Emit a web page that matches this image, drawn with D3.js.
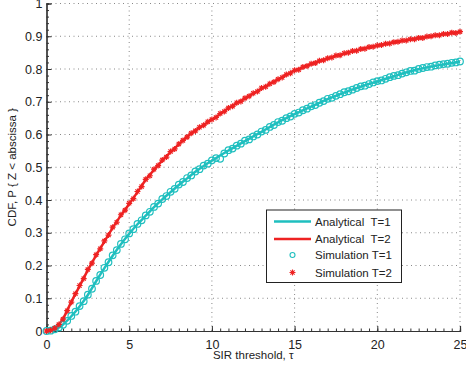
<!DOCTYPE html>
<html>
<head>
<meta charset="utf-8">
<script src="https://cdn.jsdelivr.net/npm/d3@7"></script>
<style>
  body { margin: 0; background: #fff; }
  svg text { font-family: "Liberation Sans", Arial, sans-serif; fill: #222; }
</style>
</head>
<body>
<div id="chart"></div>
<script>
// analytical curves
var anaX = [0, 0.5, 1, 1.5, 2, 2.5, 3, 3.5, 4, 4.5, 5, 5.5, 6, 6.5, 7, 7.5, 8, 8.5, 9, 9.5, 10,
            11, 12, 13, 14, 15, 16, 17, 18, 19, 20, 21, 22, 23, 24, 25];
var anaT1 = [0, 0.004, 0.02, 0.045, 0.075, 0.11, 0.152, 0.192, 0.23, 0.265, 0.297, 0.326, 0.352, 0.378, 0.402, 0.424, 0.446, 0.466, 0.486, 0.504, 0.52,
             0.551, 0.58, 0.608, 0.637, 0.662, 0.685, 0.708, 0.728, 0.746, 0.762, 0.778, 0.793, 0.805, 0.814, 0.822];
var anaT2 = [0, 0.008, 0.038, 0.089, 0.137, 0.186, 0.231, 0.273, 0.315, 0.353, 0.388, 0.424, 0.462, 0.492, 0.52, 0.546, 0.57, 0.593, 0.612, 0.629, 0.645,
             0.68, 0.71, 0.74, 0.768, 0.795, 0.815, 0.832, 0.847, 0.86, 0.871, 0.881, 0.89, 0.898, 0.906, 0.913];

// simulation points, one every 0.25
var simX = d3.range(0, 25.001, 0.25);
var simT1 = [0.000, 0.001, 0.005, 0.011, 0.019, 0.031, 0.046, 0.059, 0.076, 0.091, 0.111, 0.129, 0.153, 0.171, 0.193, 0.210,
             0.231, 0.247, 0.266, 0.280, 0.298, 0.311, 0.327, 0.338, 0.353, 0.364, 0.379, 0.389, 0.403, 0.412, 0.425, 0.434,
             0.447, 0.455, 0.467, 0.475, 0.487, 0.494, 0.505, 0.511, 0.521, 0.528, 0.526, 0.542, 0.552, 0.557, 0.566, 0.572,
             0.581, 0.585, 0.594, 0.600, 0.609, 0.614, 0.623, 0.629, 0.638, 0.642, 0.650, 0.655, 0.663, 0.667, 0.674, 0.679,
             0.686, 0.690, 0.697, 0.702, 0.709, 0.712, 0.718, 0.723, 0.729, 0.732, 0.737, 0.742, 0.747, 0.749, 0.754, 0.759,
             0.763, 0.765, 0.770, 0.775, 0.779, 0.781, 0.786, 0.790, 0.794, 0.795, 0.800, 0.803, 0.806, 0.807, 0.811, 0.813,
             0.815, 0.816, 0.819, 0.820, 0.823];
var simT2 = [0.000, 0.002, 0.009, 0.020, 0.036, 0.062, 0.088, 0.114, 0.139, 0.160, 0.188, 0.207, 0.233, 0.251, 0.275, 0.293,
             0.317, 0.332, 0.355, 0.369, 0.390, 0.404, 0.426, 0.441, 0.463, 0.474, 0.494, 0.505, 0.522, 0.531, 0.548, 0.556,
             0.571, 0.582, 0.592, 0.604, 0.611, 0.622, 0.628, 0.639, 0.646, 0.652, 0.664, 0.670, 0.681, 0.686, 0.697, 0.701,
             0.711, 0.717, 0.726, 0.731, 0.742, 0.746, 0.755, 0.760, 0.769, 0.774, 0.783, 0.787, 0.796, 0.798, 0.806, 0.809,
             0.816, 0.818, 0.825, 0.827, 0.833, 0.835, 0.841, 0.842, 0.848, 0.850, 0.855, 0.856, 0.861, 0.862, 0.867, 0.868,
             0.872, 0.873, 0.877, 0.878, 0.882, 0.883, 0.887, 0.887, 0.891, 0.891, 0.895, 0.895, 0.899, 0.900, 0.903, 0.903,
             0.907, 0.907, 0.911, 0.910, 0.914];

var xTicks = [0, 5, 10, 15, 20, 25];
var yTicks = [0, 0.1, 0.2, 0.3, 0.4, 0.5, 0.6, 0.7, 0.8, 0.9, 1];
var legendLabels = ["Analytical  T=1", "Analytical  T=2", "Simulation T=1", "Simulation T=2"];

var W = 466, H = 373;
var margin = {left: 46.5, right: 6, top: 3.5, bottom: 42};
var cyan = "#1fbfbf", red = "#ee2222";

var svg = d3.select("#chart").append("svg")
    .attr("width", W).attr("height", H);

var x = d3.scaleLinear().domain([0, 25]).range([margin.left, W - margin.right]);
var y = d3.scaleLinear().domain([0, 1]).range([H - margin.bottom, margin.top]);

// dotted grid
svg.append("g").selectAll("line").data(xTicks.slice(1)).enter().append("line")
    .attr("x1", function(d) { return x(d); }).attr("x2", function(d) { return x(d); })
    .attr("y1", y(0)).attr("y2", y(1))
    .attr("stroke", "#888").attr("stroke-dasharray", "1,3.5");
svg.append("g").selectAll("line").data(yTicks.slice(1)).enter().append("line")
    .attr("x1", x(0)).attr("x2", x(25))
    .attr("y1", function(d) { return y(d); }).attr("y2", function(d) { return y(d); })
    .attr("stroke", "#888").attr("stroke-dasharray", "1,3.5");

// axes, ticks pointing inward
var xAxis = d3.axisBottom(x).tickValues(xTicks).tickSize(-5).tickPadding(9).tickFormat(d3.format("d"));
var yAxis = d3.axisLeft(y).tickValues(yTicks).tickSize(-5).tickPadding(4)
    .tickFormat(function(d) { return d === 0 || d === 1 ? d : d3.format(".1f")(d); });

var minorX = d3.axisBottom(x).tickValues(d3.range(0, 25.01, 0.5)).tickSize(-2.5).tickFormat("");
var minorY = d3.axisLeft(y).tickValues(d3.range(0, 1.001, 0.02)).tickSize(-2.5).tickFormat("");

svg.append("g").attr("transform", "translate(0," + y(0) + ")").call(minorX);
svg.append("g").attr("transform", "translate(" + x(0) + ",0)").call(minorY);
var gx = svg.append("g").attr("transform", "translate(0," + y(0) + ")").call(xAxis);
var gy = svg.append("g").attr("transform", "translate(" + x(0) + ",0)").call(yAxis);

svg.selectAll(".domain").attr("stroke", "#333").attr("stroke-width", 1.2);
svg.selectAll(".tick line").attr("stroke", "#333");
svg.selectAll(".tick text").style("font-size", "12.5px").style("fill", "#222")
    .style("font-family", "'Liberation Sans', Arial, sans-serif");

// axis titles
svg.append("text").attr("x", (x(0) + x(25)) / 2).attr("y", 359)
    .attr("text-anchor", "middle").style("font-size", "11.5px")
    .text("SIR threshold, τ");
svg.append("text").attr("transform", "translate(16," + ((y(0) + y(1)) / 2) + ") rotate(-90)")
    .attr("text-anchor", "middle").style("font-size", "11.5px")
    .text("CDF, P { Z < abscissa }");

// analytical lines
var line = function(ys) {
    return d3.line()
        .x(function(d, i) { return x(anaX[i]); })
        .y(function(d) { return y(d); })
        .curve(d3.curveMonotoneX)(ys);
};
svg.append("path").attr("d", line(anaT1)).attr("fill", "none")
    .attr("stroke", cyan).attr("stroke-width", 2.5);
svg.append("path").attr("d", line(anaT2)).attr("fill", "none")
    .attr("stroke", red).attr("stroke-width", 2.5);

// simulation markers
var star = "M-3,0H3M0,-3V3M-2.1,-2.1L2.1,2.1M-2.1,2.1L2.1,-2.1";
svg.append("g").selectAll("circle").data(simT1).enter().append("circle")
    .attr("cx", function(d, i) { return x(simX[i]); })
    .attr("cy", function(d) { return y(d); })
    .attr("r", 3.3).attr("fill", "none").attr("stroke", cyan).attr("stroke-width", 1.2);
svg.append("g").selectAll("path").data(simT2).enter().append("path")
    .attr("transform", function(d, i) { return "translate(" + x(simX[i]) + "," + y(d) + ")"; })
    .attr("d", star).attr("stroke", red).attr("stroke-width", 1.2);

// legend
var lg = svg.append("g").attr("transform", "translate(266.5,210)");
lg.append("rect").attr("width", 135).attr("height", 72.5)
    .attr("fill", "#fff").attr("stroke", "#222").attr("stroke-width", 1);
var rowsY = [11.5, 29, 45, 62.5];
lg.selectAll("text").data(legendLabels).enter().append("text")
    .attr("x", 48.5).attr("y", function(d, i) { return rowsY[i] + 4; })
    .style("font-size", "11.5px").style("white-space", "pre")
    .text(function(d) { return d; });
lg.append("line").attr("x1", 7.5).attr("x2", 44.5).attr("y1", rowsY[0]).attr("y2", rowsY[0])
    .attr("stroke", cyan).attr("stroke-width", 2.5);
lg.append("line").attr("x1", 7.5).attr("x2", 44.5).attr("y1", rowsY[1]).attr("y2", rowsY[1])
    .attr("stroke", red).attr("stroke-width", 2.5);
lg.append("circle").attr("cx", 26).attr("cy", rowsY[2]).attr("r", 2.5)
    .attr("fill", "none").attr("stroke", cyan).attr("stroke-width", 1.1);
lg.append("path").attr("transform", "translate(26," + rowsY[3] + ")")
    .attr("d", star).attr("stroke", red).attr("stroke-width", 1.1);
</script>
</body>
</html>
